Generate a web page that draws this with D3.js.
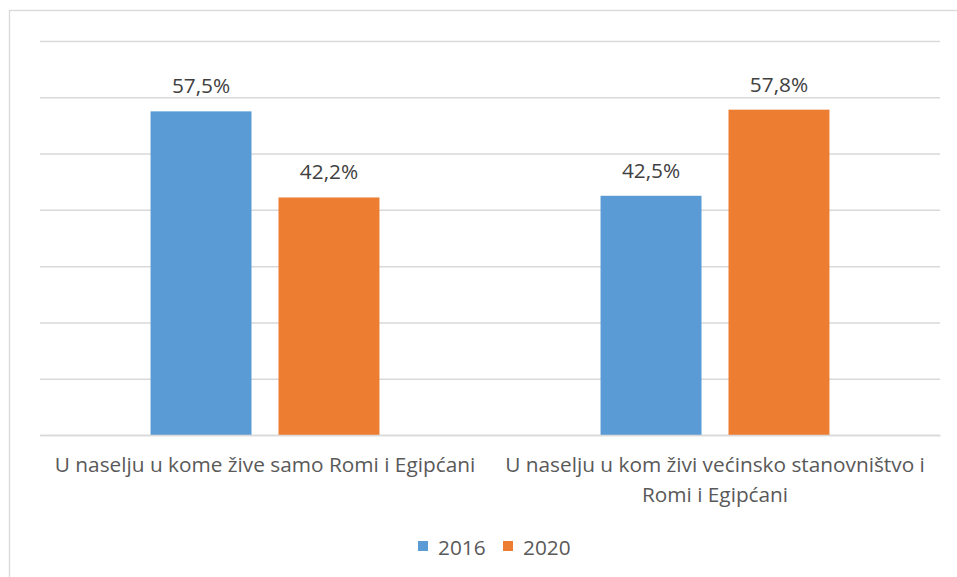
<!DOCTYPE html>
<html>
<head>
<meta charset="utf-8">
<script src="https://cdn.jsdelivr.net/npm/d3@7"></script>
<style>
  body { margin: 0; background: #fff; }
  svg { display: block; }
  text { font-family: "Open Sans", "Noto Sans", sans-serif; }
</style>
</head>
<body>
<svg id="chart" width="957" height="577"></svg>
<script>
const categories = ["U naselju u kome žive samo Romi i Egipćani", "U naselju u kom živi većinsko stanovništvo i Romi i Egipćani"];
const seriesNames = ["2016", "2020"];
const values2016 = [57.5, 42.5];
const values2020 = [42.2, 57.8];
const valueLabels2016 = ["57,5%", "42,5%"];
const valueLabels2020 = ["42,2%", "57,8%"];
const yTicks = [0, 10, 20, 30, 40, 50, 60, 70];
const colors = ["#5B9BD5", "#ED7D31"];

const svg = d3.select("#chart");
const W = 957, H = 577;
const FS = 20.8;
const m = { left: 40, right: 17, top: 41, bottom: 142 };
const x0 = d3.scaleBand().domain(categories).range([m.left, W - m.right]).paddingInner(0).paddingOuter(0);
const x1 = d3.scaleBand().domain(seriesNames).range([0, x0.bandwidth()]).paddingInner(0.211).paddingOuter(0.864);
const y = d3.scaleLinear().domain([0, 70]).range([H - m.bottom, m.top]);

// outer border
svg.append("rect").attr("x", 9.5).attr("y", 10.5).attr("width", 960).attr("height", 600)
  .attr("fill", "none").attr("stroke", "#D9D9D9").attr("stroke-width", 1.3);

// gridlines
const yAxis = d3.axisLeft(y).tickValues(yTicks).tickSize(-(W - m.left - m.right)).tickFormat("");
const gy = svg.append("g").attr("transform", `translate(${m.left},0)`).call(yAxis);
gy.select(".domain").remove();
gy.selectAll(".tick line").attr("stroke", "#D9D9D9").attr("stroke-width", 1.5);

const data = categories.map((c, i) => ({
  cat: c,
  vals: [
    { s: seriesNames[0], v: values2016[i], lab: valueLabels2016[i] },
    { s: seriesNames[1], v: values2020[i], lab: valueLabels2020[i] }
  ]
}));

const groups = svg.append("g").selectAll("g").data(data).join("g")
  .attr("transform", d => `translate(${x0(d.cat)},0)`);

groups.selectAll("rect").data(d => d.vals).join("rect")
  .attr("x", d => x1(d.s))
  .attr("width", x1.bandwidth())
  .attr("y", d => y(d.v))
  .attr("height", d => y(0) - y(d.v))
  .attr("fill", (d, i) => colors[i]);

groups.selectAll("text.val").data(d => d.vals).join("text")
  .attr("class", "val")
  .attr("x", d => x1(d.s) + x1.bandwidth() / 2)
  .attr("y", d => y(d.v) - 18)
  .attr("text-anchor", "middle")
  .attr("fill", "#404040")
  .attr("font-size", FS)
  .text(d => d.lab);

// x axis
const xAxis = d3.axisBottom(x0).tickSize(0).tickPadding(0);
const gx = svg.append("g").attr("transform", `translate(0,${y(0)})`).call(xAxis);
gx.select(".domain").attr("stroke", "#D9D9D9").attr("stroke-width", 1.5);
gx.selectAll(".tick text").attr("font-size", FS).attr("fill", "#595959")
  .attr("font-family", '"Open Sans", sans-serif')
  .attr("dy", null).attr("y", 37)
  .each(function () { wrap(d3.select(this), 450); });

function wrap(t, width) {
  const words = t.text().split(/\s+/);
  t.text(null);
  let line = [], lineNo = 0;
  let tspan = t.append("tspan").attr("x", 0).attr("y", 37);
  for (const w of words) {
    line.push(w);
    tspan.text(line.join(" "));
    if (tspan.node().getComputedTextLength() > width && line.length > 1) {
      line.pop();
      tspan.text(line.join(" "));
      line = [w];
      lineNo++;
      tspan = t.append("tspan").attr("x", 0).attr("y", 37 + lineNo * 30).text(w);
    }
  }
}

// legend
const legend = svg.append("g").attr("transform", "translate(418,541)");
const li = legend.selectAll("g").data(seriesNames).join("g")
  .attr("transform", (d, i) => `translate(${i * 85},0)`);
li.append("rect").attr("width", 10).attr("height", 10).attr("fill", (d, i) => colors[i]);
li.append("text").attr("x", 20).attr("y", 14).attr("font-size", FS).attr("fill", "#595959").text(d => d);
</script>
</body>
</html>
